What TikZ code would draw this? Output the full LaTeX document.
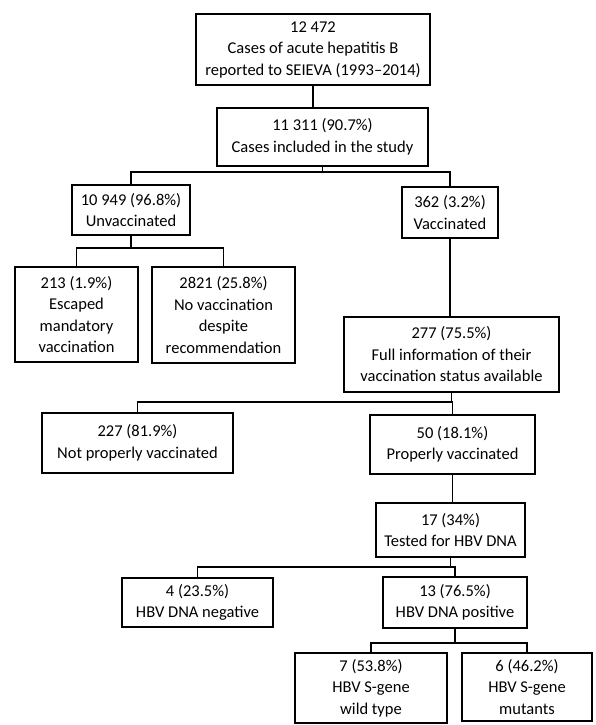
\documentclass[tikz,border=0pt]{standalone}
\usepackage{fontspec}
\setmainfont{Carlito}
\begin{document}
\begin{tikzpicture}[x=1pt,y=-1pt,
  box/.style={draw, line width=1.1pt, align=center, inner sep=0pt, font=\fontsize{16.5}{21.5}\selectfont},
  conn/.style={draw, line width=1.1pt}]
\useasboundingbox[fill=white] (0,0) rectangle (595,725);
\node[box, minimum width=234pt, minimum height=71pt] (n1) at (313,49.5) {12 472\\Cases of acute hepatitis B\\reported to SEIEVA (1993–2014)};
\node[box, minimum width=211pt, minimum height=58pt] (n2) at (322.5,137) {11 311 (90.7\%)\\Cases included in the study};
\node[box, minimum width=118pt, minimum height=50pt] (n3) at (131,210) {10 949 (96.8\%)\\Unvaccinated};
\node[box, minimum width=96pt, minimum height=51pt] (n4) at (450,212.5) {362 (3.2\%)\\Vaccinated};
\node[box, minimum width=123pt, minimum height=95pt] (n5) at (76.5,314.5) {213 (1.9\%)\\Escaped\\mandatory\\vaccination};
\node[box, minimum width=143pt, minimum height=96pt] (n6) at (223.5,315) {2821 (25.8\%)\\No vaccination\\despite\\recommendation};
\node[box, minimum width=215pt, minimum height=75pt] (n7) at (451.5,354.5) {277 (75.5\%)\\Full information of their\\vaccination status available};
\node[box, minimum width=191pt, minimum height=60pt] (n8) at (137.5,443) {227 (81.9\%)\\Not properly vaccinated};
\node[box, minimum width=165pt, minimum height=59pt] (n9) at (452.5,444.5) {50 (18.1\%)\\Properly vaccinated};
\node[box, minimum width=149pt, minimum height=54pt] (n10) at (450.5,530) {17 (34\%)\\Tested for HBV DNA};
\node[box, minimum width=151pt, minimum height=49pt] (n11) at (197.5,602.5) {4 (23.5\%)\\HBV DNA negative};
\node[box, minimum width=144pt, minimum height=51pt] (n12) at (455,602.5) {13 (76.5\%)\\HBV DNA positive};
\node[box, minimum width=152pt, minimum height=70pt] (n13) at (371,688) {7 (53.8\%)\\HBV S-gene\\wild type};
\node[box, minimum width=130pt, minimum height=68pt] (n14) at (527,687) {6 (46.2\%)\\HBV S-gene\\mutants};
\coordinate (b2) at (322.5,172);
\coordinate (b3) at (131,248);
\coordinate (b7) at (451.5,402);
\coordinate (b10) at (450.5,567);
\coordinate (b12) at (455,643);
\draw[conn] (n1.south) -- (n1.south |- n2.north);
\draw[conn] (n2.south) -- (b2);
\draw[conn] (n3.north) |- (b2) -| (n4.north);
\draw[conn] (n3.south) -- (b3);
\draw[conn] (n5.north) |- (b3) -| (n6.north);
\draw[conn] (n4.south) -- (n4.south |- n7.north);
\draw[conn] (n7.south) -- (b7);
\draw[conn] (n8.north) |- (b7) -| (n9.north);
\draw[conn] (n9.south) -- (n9.south |- n10.north);
\draw[conn] (n10.south) -- (b10);
\draw[conn] (n11.north) |- (b10) -| (n12.north);
\draw[conn] (n12.south) -- (b12);
\draw[conn] (n13.north) |- (b12) -| (n14.north);
\end{tikzpicture}
\end{document}
